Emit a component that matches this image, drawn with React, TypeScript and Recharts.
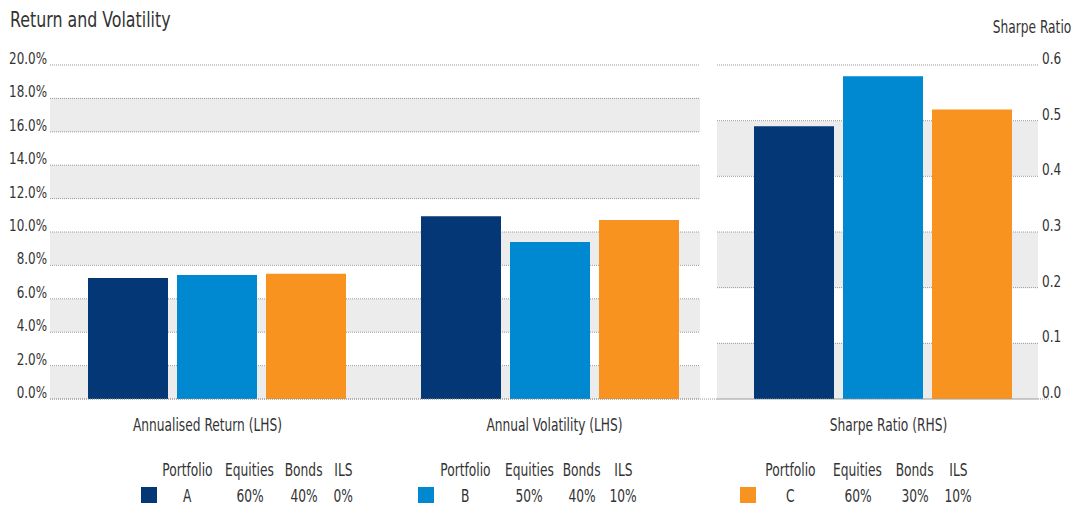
import React from 'react';
import { BarChart, Bar, XAxis, YAxis, CartesianGrid } from 'recharts';

const categories = ['Annualised Return (LHS)', 'Annual Volatility (LHS)', 'Sharpe Ratio (RHS)'];
const portfolios = ['A', 'B', 'C'];
const annualisedReturn = [7.25, 7.42, 7.5];
const annualVolatility = [10.95, 9.4, 10.72];
const sharpeRatio = [0.49, 0.58, 0.52];
const equities = ['60%', '50%', '60%'];
const bonds = ['40%', '40%', '30%'];
const ils = ['0%', '10%', '10%'];
const legendHeaders = ['Portfolio', 'Equities', 'Bonds', 'ILS'];
const leftTicks = [0, 2, 4, 6, 8, 10, 12, 14, 16, 18, 20];
const rightTicks = [0, 0.1, 0.2, 0.3, 0.4, 0.5, 0.6];
const colors = ['#033776', '#0088d1', '#f7931e'];

const data = categories.map((name, ci) => {
  const row: Record<string, any> = { name };
  portfolios.forEach((p, pi) => {
    row['L' + p] = ci === 0 ? annualisedReturn[pi] : ci === 1 ? annualVolatility[pi] : null;
    row['R' + p] = ci === 2 ? sharpeRatio[pi] : null;
  });
  return row;
});

const FONT = "'DejaVu Sans Condensed', 'DejaVu Sans', sans-serif";
const TEXT = '#333333';
const SQUEEZE = 0.8;

// layout (pixel positions)
const groupSwatchX = [141, 418, 740];
const groupColCenters = [
  [187, 249.5, 303.5, 343],
  [465.5, 529, 581.5, 623],
  [790, 857.5, 915, 958],
];
const catLabelShift = [-9, 5, 6];

const makeTick = (
  anchor: 'start' | 'end' | 'middle',
  dx: number,
  dy: number,
  size: number,
  scale: number,
  fmt: (v: any) => string,
  shifts?: number[]
) =>
  (props: any) => {
    const { x, y, payload, index } = props;
    const extra = shifts ? shifts[index] || 0 : 0;
    return (
      <text
        transform={`translate(${x + dx + extra},${y + dy}) scale(${scale},1)`}
        textAnchor={anchor}
        fontSize={size}
        fontFamily={FONT}
        fill={TEXT}
      >
        {fmt(payload.value)}
      </text>
    );
  };

const leftTick = makeTick('end', 0, -1, 16, 0.83, (v: number) => v.toFixed(1) + '%');
const rightTick = makeTick('start', -7, -1, 16, 0.84, (v: number) => v.toFixed(1));
const catTick = makeTick('middle', 0, 32, 17, SQUEEZE, (v: string) => v, catLabelShift);

const squeezed = (origin: string): React.CSSProperties => ({
  display: 'inline-block',
  transform: `scaleX(${SQUEEZE})`,
  transformOrigin: origin,
});

export default function App() {
  return (
    <div style={{ position: 'absolute', left: 0, top: 0, width: 1088, height: 507, background: '#fff', fontFamily: FONT, color: TEXT }}>
      <BarChart
        width={1088}
        height={507}
        data={data}
        margin={{ top: 65, right: 0, left: 0, bottom: 68 }}
        barGap={9}
      >
        <CartesianGrid
          xAxisId="l"
          yAxisId="left"
          x={50}
          width={650}
          vertical={false}
          horizontalFill={['#ffffff', '#ececec']}
          fillOpacity={1}
          stroke="#9a9a9a"
          strokeDasharray="1 1"
        />
        <CartesianGrid
          xAxisId="r"
          yAxisId="right"
          x={717}
          width={321}
          vertical={false}
          horizontalFill={['#ffffff', '#ececec']}
          fillOpacity={1}
          stroke="#9a9a9a"
          strokeDasharray="1 1"
        />
        <XAxis
          xAxisId="l"
          dataKey="name"
          height={40}
          interval={0}
          tickLine={false}
          tickSize={0}
          tickMargin={0}
          axisLine={{ stroke: '#9a9a9a', strokeDasharray: '1 1' }}
          tick={catTick}
        />
        <XAxis xAxisId="r" dataKey="name" hide />
        <YAxis
          yAxisId="left"
          orientation="left"
          width={50}
          domain={[0, 20]}
          ticks={leftTicks}
          interval={0}
          axisLine={false}
          tickLine={false}
          tickSize={0}
          tickMargin={3}
          tick={leftTick}
        />
        <YAxis
          yAxisId="right"
          orientation="right"
          width={39}
          domain={[0, 0.6]}
          ticks={rightTicks}
          interval={0}
          axisLine={false}
          tickLine={false}
          tickSize={0}
          tickMargin={0}
          tick={rightTick}
        />
        {portfolios.map((p, i) => (
          <Bar
            key={'L' + p}
            dataKey={'L' + p}
            xAxisId="l"
            yAxisId="left"
            fill={colors[i]}
            barSize={80}
            isAnimationActive={false}
          />
        ))}
        {portfolios.map((p, i) => (
          <Bar
            key={'R' + p}
            dataKey={'R' + p}
            xAxisId="r"
            yAxisId="right"
            fill={colors[i]}
            barSize={80}
            isAnimationActive={false}
          />
        ))}
      </BarChart>

      <div style={{ position: 'absolute', left: 10, top: 9, fontSize: 22, lineHeight: 1, whiteSpace: 'nowrap' }}>
        <span style={squeezed('left center')}>Return and Volatility</span>
      </div>
      <div style={{ position: 'absolute', right: 17, top: 19, fontSize: 17, lineHeight: 1, whiteSpace: 'nowrap', textAlign: 'right' }}>
        <span style={squeezed('right center')}>Sharpe Ratio</span>
      </div>

      {portfolios.map((p, gi) => {
        const values = [p, equities[gi], bonds[gi], ils[gi]];
        return (
          <React.Fragment key={'g' + p}>
            <div
              style={{
                position: 'absolute',
                left: groupSwatchX[gi],
                top: 487,
                width: 16,
                height: 16,
                background: colors[gi],
              }}
            />
            {legendHeaders.map((h, ci) => (
              <div
                key={'h' + ci}
                style={{
                  position: 'absolute',
                  left: groupColCenters[gi][ci] - 40,
                  width: 80,
                  top: 462,
                  fontSize: 17,
                  lineHeight: 1,
                  textAlign: 'center',
                  whiteSpace: 'nowrap',
                }}
              >
                <span style={squeezed('center center')}>{h}</span>
              </div>
            ))}
            {values.map((v, ci) => (
              <div
                key={'v' + ci}
                style={{
                  position: 'absolute',
                  left: groupColCenters[gi][ci] - 40,
                  width: 80,
                  top: 488,
                  fontSize: 17,
                  lineHeight: 1,
                  textAlign: 'center',
                  whiteSpace: 'nowrap',
                }}
              >
                <span style={squeezed('center center')}>{v}</span>
              </div>
            ))}
          </React.Fragment>
        );
      })}
    </div>
  );
}
